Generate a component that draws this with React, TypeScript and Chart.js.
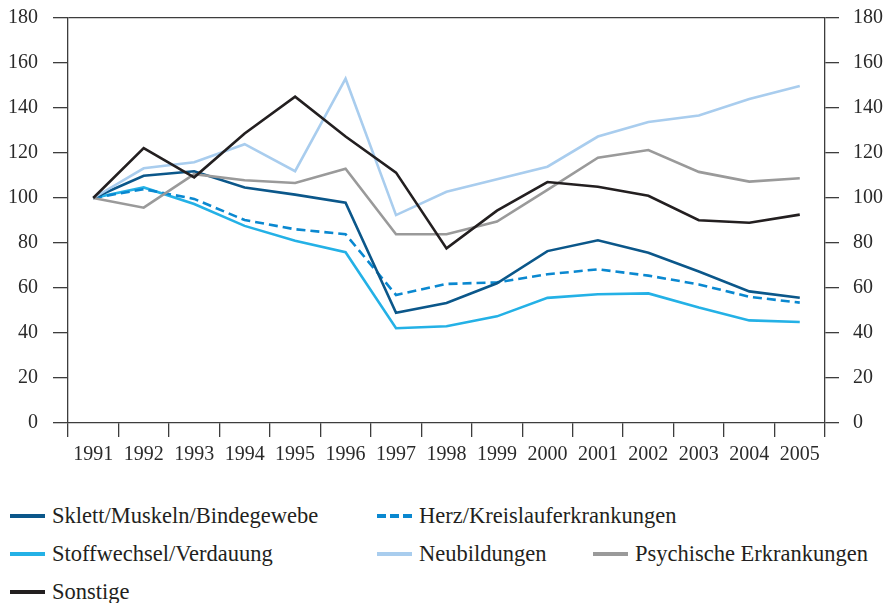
import React, { useEffect, useRef } from "react";
import { Chart, registerables } from "chart.js";

Chart.register(...registerables);

const years = ["1991", "1992", "1993", "1994", "1995", "1996", "1997", "1998", "1999", "2000", "2001", "2002", "2003", "2004", "2005"];

const sklett = [100, 109.9, 111.9, 104.7, 101.5, 97.9, 49.0, 53.3, 62.1, 76.4, 81.2, 75.7, 67.3, 58.5, 55.7];
const herz = [100, 103.9, 99.6, 90.2, 86.1, 83.9, 56.9, 61.8, 62.5, 66.1, 68.3, 65.5, 61.6, 56.1, 53.5];
const stoffwechsel = [100, 104.7, 97.3, 87.6, 81.0, 75.9, 42.1, 43.0, 47.4, 55.6, 57.2, 57.6, 51.3, 45.6, 44.9];
const neubildungen = [100, 113.2, 115.9, 123.9, 111.9, 153.0, 92.4, 102.8, 108.3, 113.9, 127.3, 133.8, 136.7, 144.0, 149.8];
const psychische = [100, 95.7, 110.6, 107.9, 106.7, 113.0, 83.9, 83.9, 89.5, 103.6, 117.9, 121.3, 111.6, 107.3, 108.8];
const sonstige = [100, 122.2, 109.2, 128.7, 145.0, 127.3, 111.3, 77.6, 94.4, 107.1, 105.0, 101.0, 90.1, 89.0, 92.6];

const yMin = 0;
const yMax = 180;
const yStep = 20;

const seriesLabels = [
  "Sklett/Muskeln/Bindegewebe",
  "Herz/Kreislauferkrankungen",
  "Stoffwechsel/Verdauung",
  "Neubildungen",
  "Psychische Erkrankungen",
  "Sonstige",
];
const seriesData = [sklett, herz, stoffwechsel, neubildungen, psychische, sonstige];
const seriesColors = ["#0b578a", "#0a88d0", "#24b1e6", "#a9cdee", "#9a9a9a", "#231f20"];
const seriesDashed = [false, true, false, false, false, false];
const seriesOrder = [3, 4, 5, 2, 1, 0];

// legend placement (layout only)
const legendSlots = [
  { left: 10, top: 516 },
  { left: 377, top: 516 },
  { left: 10, top: 554 },
  { left: 377, top: 554 },
  { left: 593, top: 554 },
  { left: 10, top: 592 },
];

const FONT = "Liberation Serif, Times New Roman, serif";
const AXIS = "#3d3d3d";

export default function App() {
  const ref = useRef<HTMLCanvasElement | null>(null);

  useEffect(() => {
    let chart: Chart | null = null;
    let cancelled = false;
    const build = () => {
      if (cancelled || !ref.current) return;
      chart = new Chart(ref.current, {
        type: "line",
        data: {
          labels: years,
          datasets: seriesData.map((d, i) => ({
            label: seriesLabels[i],
            data: d,
            borderColor: seriesColors[i],
            backgroundColor: seriesColors[i],
            borderWidth: 2.6,
            borderDash: seriesDashed[i] ? [9, 5] : [],
            pointRadius: 0,
            tension: 0,
            fill: false,
            order: seriesOrder[i],
          })),
        },
        options: {
          animation: false,
          responsive: false,
          maintainAspectRatio: false,
          layout: { padding: { top: 18, left: 0, right: 0, bottom: 0 } },
          plugins: { legend: { display: false }, tooltip: { enabled: false } },
          scales: {
            x: {
              type: "category",
              offset: true,
              grid: {
                offset: true,
                drawOnChartArea: false,
                drawTicks: true,
                tickLength: 14,
                color: AXIS,
                lineWidth: 1.3,
              },
              border: { display: true, color: AXIS, width: 1.3 },
              ticks: {
                autoSkip: false,
                maxRotation: 0,
                padding: 6,
                color: "#2a2a2a",
                font: { family: FONT, size: 20 },
              },
              afterFit: (s: any) => {
                s.height = 47;
                s.paddingLeft = 0;
                s.paddingRight = 0;
              },
            },
            y: {
              position: "left",
              min: yMin,
              max: yMax,
              ticks: {
                stepSize: yStep,
                padding: 15,
                color: "#2a2a2a",
                font: { family: FONT, size: 20 },
              },
              grid: {
                drawOnChartArea: true,
                tickLength: 15,
                color: (ctx: any) => (ctx.tick && ctx.tick.value === yMax ? AXIS : "rgba(0,0,0,0)"),
                tickColor: AXIS,
                lineWidth: 1.3,
              },
              border: { display: true, color: AXIS, width: 1.3 },
              afterFit: (s: any) => {
                s.width = 68;
                s.paddingTop = 0;
                s.paddingBottom = 0;
              },
            },
            y2: {
              position: "right",
              min: yMin,
              max: yMax,
              ticks: {
                stepSize: yStep,
                padding: 14,
                color: "#2a2a2a",
                font: { family: FONT, size: 20 },
              },
              grid: {
                drawOnChartArea: false,
                tickLength: 14,
                color: AXIS,
                tickColor: AXIS,
                lineWidth: 1.3,
              },
              border: { display: true, color: AXIS, width: 1.3 },
              afterFit: (s: any) => {
                s.width = 63;
                s.paddingTop = 0;
                s.paddingBottom = 0;
              },
            },
          },
        } as any,
      });
    };
    const fonts = (document as any).fonts;
    if (fonts && fonts.load) {
      fonts.load('20px "Liberation Serif"').then(build, build);
    } else {
      build();
    }
    return () => {
      cancelled = true;
      if (chart) chart.destroy();
    };
  }, []);

  return (
    <div style={{ position: "absolute", left: 0, top: 0, width: 888, height: 603, background: "#fff" }}>
      <canvas ref={ref} width={888} height={470} style={{ display: "block", width: 888, height: 470 }} />
      {seriesLabels.map((lab, i) => (
        <div
          key={lab}
          style={{
            position: "absolute",
            left: legendSlots[i].left,
            top: legendSlots[i].top - 13,
            height: 26,
            display: "flex",
            alignItems: "center",
            whiteSpace: "nowrap",
            fontFamily: "'Liberation Serif', 'Times New Roman', serif",
            fontSize: 22.5,
            lineHeight: "26px",
            color: "#231f20",
          }}
        >
          <span
            style={{
              display: "inline-block",
              width: 35,
              height: 4,
              marginRight: 7,
              background: seriesDashed[i]
                ? `repeating-linear-gradient(to right, ${seriesColors[i]} 0 9px, transparent 9px 13px)`
                : seriesColors[i],
            }}
          />
          <span>{lab}</span>
        </div>
      ))}
    </div>
  );
}
